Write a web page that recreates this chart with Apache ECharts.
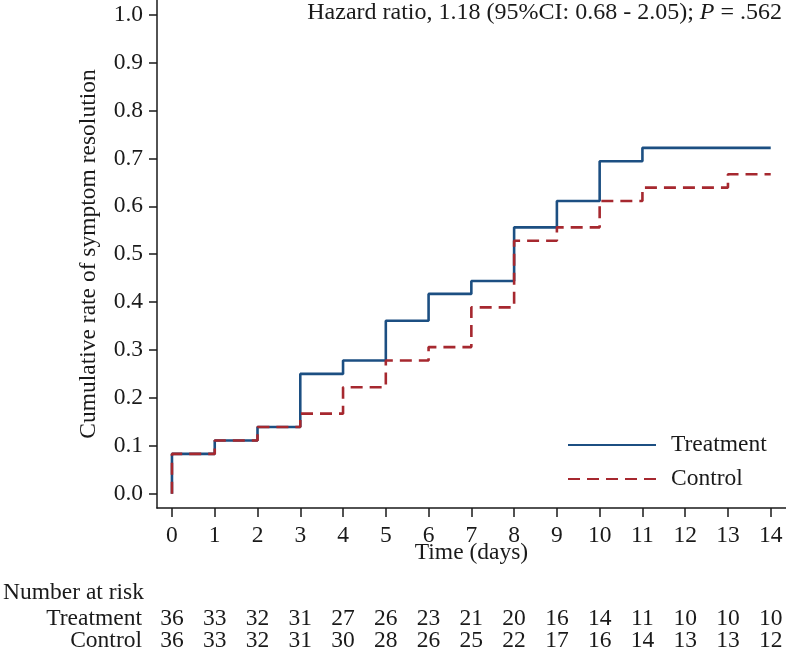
<!DOCTYPE html>
<html>
<head>
<meta charset="utf-8">
<script src="https://cdn.jsdelivr.net/npm/echarts@6/dist/echarts.min.js"></script>
<style>html,body{margin:0;padding:0;background:#fff;}#c{width:786px;height:654px;}</style>
</head>
<body>
<div id="c"></div>
<script>
// ---- data ----
const days = [0, 1, 2, 3, 4, 5, 6, 7, 8, 9, 10, 11, 12, 13, 14];
const treatment = [0.083, 0.111, 0.139, 0.250, 0.278, 0.361, 0.417, 0.444, 0.556, 0.611, 0.694, 0.722, 0.722, 0.722, 0.722];
const control   = [0.083, 0.111, 0.139, 0.167, 0.222, 0.278, 0.306, 0.389, 0.528, 0.556, 0.611, 0.639, 0.639, 0.667, 0.667];
const treatAtRisk = [36, 33, 32, 31, 27, 26, 23, 21, 20, 16, 14, 11, 10, 10, 10];
const ctrlAtRisk  = [36, 33, 32, 31, 30, 28, 26, 25, 22, 17, 16, 14, 13, 13, 12];
const yTicks = [0, 0.1, 0.2, 0.3, 0.4, 0.5, 0.6, 0.7, 0.8, 0.9, 1.0];
const seriesNames = ['Treatment', 'Control'];
const yTitle = 'Cumulative rate of symptom resolution';
const xTitle = 'Time (days)';
const riskTitle = 'Number at risk';

const FONT = '"Liberation Serif", "Times New Roman", serif';
const FS = 23.5;
const INK = '#1a1a1a';
const BLUE = '#1c4f82';
const RED = '#a6282f';

function stepData(vals) {
  const d = [[days[0], 0]];
  days.forEach((t, i) => d.push([t, vals[i]]));
  return d;
}

const XMIN = -0.35, XMAX = 14.357;
const baseText = { fontFamily: FONT, fontSize: FS, color: INK };

function riskAxis(name, arr, offset) {
  return {
    type: 'value', position: 'bottom', offset: offset,
    min: XMIN, max: XMAX,
    axisLine: { show: false, onZero: false }, axisTick: { show: false }, splitLine: { show: false },
    axisLabel: Object.assign({}, baseText, {
      customValues: days, margin: 0, verticalAlign: 'middle',
      formatter: v => String(arr[Math.round(v)])
    }),
    name: name, nameLocation: 'start', nameGap: 15, nameMoveOverlap: false,
    nameTextStyle: Object.assign({}, baseText, { align: 'right', verticalAlign: 'middle' })
  };
}

const chart = echarts.init(document.getElementById('c'), null, { renderer: 'canvas' });
chart.setOption({
  backgroundColor: '#fff',
  animation: false,
  title: {
    text: 'Hazard ratio, 1.18 (95%CI: 0.68 - 2.05); {i|P} = .562',
    right: 4, top: 1, padding: 0,
    textStyle: {
      fontFamily: FONT, fontSize: 24, fontWeight: 'normal', color: INK,
      rich: { i: { fontFamily: FONT, fontSize: 24, fontStyle: 'italic', color: INK } }
    }
  },
  legend: {
    data: seriesNames,
    orient: 'vertical', left: 567, top: 433, padding: 0,
    itemWidth: 88, itemHeight: 14, itemGap: 10,
    itemStyle: { opacity: 0 },
    textStyle: Object.assign({}, baseText, { padding: [0, 0, 0, 10] })
  },
  grid: { left: 157, top: 0, right: 0, height: 508, containLabel: false, outerBoundsMode: 'none' },
  graphic: [{
    type: 'text', left: 3, top: 581,
    style: { text: riskTitle, font: FS + 'px ' + FONT, fill: INK }
  }],
  xAxis: [
    {
      type: 'value', min: XMIN, max: XMAX,
      axisLine: { show: true, onZero: false, lineStyle: { color: INK, width: 1.5 } },
      axisTick: { show: true, customValues: days, length: 9, lineStyle: { color: INK, width: 1.5 } },
      splitLine: { show: false },
      axisLabel: Object.assign({}, baseText, { customValues: days, margin: 16, formatter: v => String(Math.round(v)) }),
      name: xTitle, nameLocation: 'middle', nameGap: 33, nameMoveOverlap: false,
      nameTextStyle: baseText
    },
    riskAxis(seriesNames[0], treatAtRisk, 110.8),
    riskAxis(seriesNames[1], ctrlAtRisk, 133.3)
  ],
  yAxis: {
    type: 'value', min: -0.030, max: 1.0307,
    axisLine: { show: true, onZero: false, lineStyle: { color: INK, width: 1.5 } },
    axisTick: { show: true, customValues: yTicks, length: 8, lineStyle: { color: INK, width: 1.5 } },
    splitLine: { show: false },
    axisLabel: Object.assign({}, baseText, { customValues: yTicks, margin: 14, formatter: v => v.toFixed(1) }),
    name: yTitle, nameLocation: 'middle', nameGap: 56, nameRotate: 90, nameMoveOverlap: false,
    nameTextStyle: baseText
  },
  series: [
    {
      name: seriesNames[0], type: 'line', step: 'end', xAxisIndex: 0,
      data: stepData(treatment), symbol: 'none',
      lineStyle: { color: BLUE, width: 2.6 }, itemStyle: { color: BLUE }
    },
    {
      name: seriesNames[1], type: 'line', step: 'end', xAxisIndex: 0,
      data: stepData(control), symbol: 'none',
      lineStyle: { color: RED, width: 2.6, type: [12, 7] }, itemStyle: { color: RED }
    }
  ]
});
</script>
</body>
</html>
